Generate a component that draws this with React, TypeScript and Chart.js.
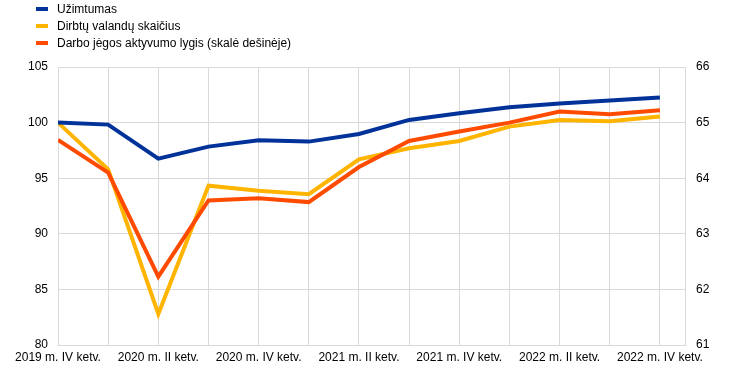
import React, { useEffect, useRef } from "react";
import { Chart, registerables } from "chart.js";

Chart.register(...registerables);

const quarters = [
  "2019 m. IV ketv.",
  "2020 m. I ketv.",
  "2020 m. II ketv.",
  "2020 m. III ketv.",
  "2020 m. IV ketv.",
  "2021 m. I ketv.",
  "2021 m. II ketv.",
  "2021 m. III ketv.",
  "2021 m. IV ketv.",
  "2022 m. I ketv.",
  "2022 m. II ketv.",
  "2022 m. III ketv.",
  "2022 m. IV ketv.",
];

const employment = [100.0, 99.82, 96.76, 97.84, 98.42, 98.29, 98.98, 100.24, 100.85, 101.38, 101.71, 101.98, 102.25];
const hoursWorked = [100.0, 95.8, 82.8, 94.33, 93.88, 93.56, 96.7, 97.7, 98.35, 99.64, 100.24, 100.12, 100.54];
const participationRate = [64.69, 64.1, 62.23, 63.6, 63.64, 63.57, 64.2, 64.67, 64.84, 65.0, 65.2, 65.15, 65.22];

const seriesNames = [
  "Užimtumas",
  "Dirbtų valandų skaičius",
  "Darbo jėgos aktyvumo lygis (skalė dešinėje)",
];
const seriesColors = ["#003299", "#ffb400", "#ff4b00"];

const FONT = "'Liberation Sans', Arial, sans-serif";

export default function App() {
  const canvasRef = useRef<HTMLCanvasElement | null>(null);

  useEffect(() => {
    document.body.style.margin = "0";
    const ctx = canvasRef.current;
    if (!ctx) return;
    const toXY = (arr: number[]) => arr.map((v, i) => ({ x: i, y: v }));
    const chart = new Chart(ctx, {
      type: "line",
      data: {
        datasets: [
          {
            label: seriesNames[0],
            data: toXY(employment),
            borderColor: seriesColors[0],
            backgroundColor: seriesColors[0],
            borderWidth: 4,
            pointRadius: 0,
            tension: 0,
            yAxisID: "y",
            order: 1,
          },
          {
            label: seriesNames[1],
            data: toXY(hoursWorked),
            borderColor: seriesColors[1],
            backgroundColor: seriesColors[1],
            borderWidth: 4,
            pointRadius: 0,
            tension: 0,
            yAxisID: "y",
            order: 3,
          },
          {
            label: seriesNames[2],
            data: toXY(participationRate),
            borderColor: seriesColors[2],
            backgroundColor: seriesColors[2],
            borderWidth: 4,
            pointRadius: 0,
            tension: 0,
            yAxisID: "y1",
            order: 2,
          },
        ],
      },
      options: {
        responsive: false,
        animation: false,
        layout: { padding: { top: 67, left: 0, right: 0, bottom: 0 } },
        plugins: {
          legend: { display: false },
          tooltip: { enabled: false },
        },
        scales: {
          x: {
            type: "linear",
            min: 0,
            max: 12.5,
            afterFit: (s: any) => {
              s.height = 31;
            },
            ticks: {
              stepSize: 1,
              autoSkip: false,
              maxRotation: 0,
              includeBounds: false,
              padding: 5,
              color: "#000",
              font: { family: FONT, size: 12 },
              callback: (v: any) => {
                const i = Number(v);
                if (Number.isInteger(i) && i % 2 === 0 && i < quarters.length) return quarters[i];
                return "";
              },
            },
            grid: { color: "#d9d9d9", lineWidth: 1, drawTicks: false },
            border: { color: "#d9d9d9" },
          },
          y: {
            position: "left",
            min: 80,
            max: 105,
            afterFit: (s: any) => {
              s.width = 58;
            },
            ticks: {
              stepSize: 5,
              padding: 10,
              color: "#000",
              font: { family: FONT, size: 12 },
            },
            grid: { color: "#d9d9d9", lineWidth: 1, drawTicks: false },
            border: { color: "#d9d9d9" },
          },
          y1: {
            position: "right",
            min: 61,
            max: 66,
            afterFit: (s: any) => {
              s.width = 59;
            },
            ticks: {
              stepSize: 1,
              padding: 11,
              color: "#000",
              font: { family: FONT, size: 12 },
            },
            grid: { display: false, drawTicks: false },
            border: { color: "#d9d9d9" },
          },
        },
      },
    } as any);
    return () => chart.destroy();
  }, []);

  return (
    <div style={{ position: "relative", width: 744, height: 376, background: "#fff" }}>
      <canvas ref={canvasRef} width={744} height={376} style={{ position: "absolute", left: 0, top: 0 }} />
      <div style={{ position: "absolute", left: 0, top: 0, fontFamily: FONT, fontSize: 12, color: "#000" }}>
        {seriesNames.map((name, i) => (
          <div
            key={name}
            style={{ position: "absolute", left: 36, top: 1 + i * 17.3, height: 15, display: "flex", alignItems: "center", whiteSpace: "nowrap" }}
          >
            <span style={{ display: "inline-block", width: 12, height: 4, background: seriesColors[i], marginRight: 9 }} />
            <span>{name}</span>
          </div>
        ))}
      </div>
    </div>
  );
}
